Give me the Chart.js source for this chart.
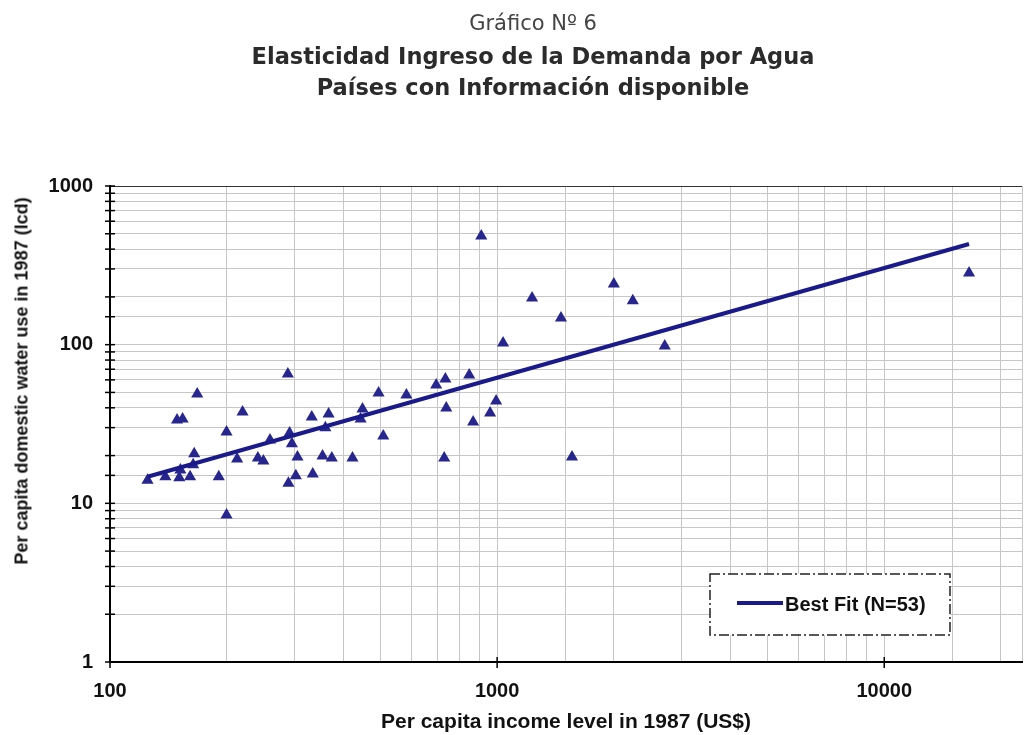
<!DOCTYPE html>
<html>
<head>
<meta charset="utf-8">
<script src="https://cdn.jsdelivr.net/npm/chart.js@4"></script>
<style>
  html, body { margin: 0; padding: 0; background: #fff; }
  #wrap { width: 1029px; height: 735px; position: relative; overflow: hidden; }
  .ttl { position: absolute; left: 533px; transform: translateX(-50%); white-space: nowrap; text-align: center;
         font-family: "DejaVu Sans", Verdana, sans-serif; }
  #t1 { top: 10px; font-size: 21px; line-height: 26px; color: #444; }
  #t2 { top: 40.5px; font-size: 22.5px; line-height: 31px; font-weight: bold; color: #2b2b2b; }
  #ytitle { position: absolute; left: 22px; top: 381px; transform: translate(-50%, -50%) rotate(-90deg);
            white-space: nowrap; font: bold 18px "Liberation Sans", Arial, sans-serif; color: #111; }
</style>
</head>
<body>
<div id="wrap">
  <canvas id="waterChart" width="1029" height="735"></canvas>
  <div class="ttl" id="t1">Gráfico Nº 6</div>
  <div class="ttl" id="t2">Elasticidad Ingreso de la Demanda por Agua<br>Países con Información disponible</div>
  <div id="ytitle">Per capita domestic water use in 1987 (lcd)</div>
</div>
<script>
// Data (income US$ 1987, water use lcd)
const incomeLevel = [
    125, 139, 151, 161, 164, 165, 168, 149, 154, 191,
    200, 200, 213, 220, 241, 249, 259, 288, 295, 305,
    302, 289, 334, 332, 367, 360, 354, 374, 423, 449,
    444, 494, 583, 508, 696, 735, 847, 739, 730, 994,
    959, 867, 1036, 910, 1231, 1462, 2002, 2241, 2710, 1561,
    16560, 291, 152
];
const waterUse = [
    14.0, 14.7, 14.5, 14.7, 17.5, 20.5, 48.9, 33.5, 34.0, 14.7,
    28.2, 8.45, 19.0, 37.7, 19.3, 18.5, 25.1, 65.4, 23.7, 19.6,
    14.9, 13.4, 15.3, 35.0, 36.6, 29.9, 19.9, 19.3, 19.3, 39.3,
    34.0, 49.6, 48.2, 26.6, 55.7, 60.8, 64.4, 39.9, 19.3, 44.2,
    37.1, 32.6, 102.5, 484, 197, 147, 241, 189, 98, 19.6,
    283, 27.8, 16.2
];
// Best fit line end points
const fitIncome = [125, 16560];
const fitWater = [14.7, 431];

const xTickLabels = [100, 1000, 10000];
const yTickLabels = [1, 10, 100, 1000];

const navy = '#26268e';
const lineNavy = '#1a1a8a';
const gridGray = '#c6c6c6';

const points = incomeLevel.map((x, i) => ({ x: x, y: waterUse[i] }));
const fitLine = fitIncome.map((x, i) => ({ x: x, y: fitWater[i] }));

// ticks crossing the axes + dashed legend box
const axisDecor = {
    id: 'axisDecor',
    afterDraw(chart) {
        const c = chart.ctx;
        const xs = chart.scales.x, ys = chart.scales.y;
        const area = chart.chartArea;
        c.save();
        c.strokeStyle = '#000';
        c.lineWidth = 1.5;
        ys.ticks.forEach(t => {
            const py = ys.getPixelForValue(t.value);
            c.beginPath();
            c.moveTo(area.left - 5, py);
            c.lineTo(area.left + 5, py);
            c.stroke();
        });
        xTickLabels.forEach(v => {
            const px = xs.getPixelForValue(v);
            c.beginPath();
            c.moveTo(px, area.bottom - 5);
            c.lineTo(px, area.bottom + 6);
            c.stroke();
        });

        // legend
        const bx = area.left + 600, by = area.bottom - 88, bw = 240, bh = 61;
        c.fillStyle = '#fff';
        c.fillRect(bx, by, bw, bh);
        c.setLineDash([10, 3, 2, 3]);
        c.lineWidth = 1.5;
        c.strokeStyle = '#222';
        c.strokeRect(bx, by, bw, bh);
        c.setLineDash([]);
        const ds = chart.data.datasets[1];
        c.strokeStyle = ds.borderColor;
        c.lineWidth = 4;
        c.beginPath();
        c.moveTo(bx + 27, by + 29);
        c.lineTo(bx + 73, by + 29);
        c.stroke();
        c.fillStyle = '#111';
        c.font = 'bold 20px "Liberation Sans", Arial, sans-serif';
        c.textBaseline = 'middle';
        c.fillText(ds.label, bx + 75, by + 31);
        c.restore();
    }
};

const isDecade = v => Math.abs(Math.log10(v) - Math.round(Math.log10(v))) < 1e-9;

new Chart(document.getElementById('waterChart'), {
    type: 'scatter',
    data: {
        datasets: [{
            label: 'Countries',
            data: points,
            pointStyle: 'triangle',
            pointRadius: 7,
            backgroundColor: navy,
            borderColor: navy,
            borderWidth: 0,
            order: 2
        }, {
            label: 'Best Fit (N=53)',
            type: 'line',
            data: fitLine,
            borderColor: lineNavy,
            borderWidth: 4,
            pointRadius: 0,
            fill: false,
            order: 1
        }]
    },
    options: {
        responsive: false,
        animation: false,
        layout: { padding: { top: 186, left: 0, right: 0, bottom: 0 } },
        plugins: {
            legend: { display: false },
            tooltip: { enabled: false }
        },
        scales: {
            x: {
                type: 'logarithmic',
                min: 100,
                max: 22690,
                afterFit: s => { s.height = 73; s.paddingRight = 0; s.paddingLeft = 0; },
                border: { color: '#000', width: 2 },
                grid: { color: gridGray, lineWidth: 1, drawTicks: false },
                ticks: {
                    autoSkip: false,
                    maxRotation: 0,
                    padding: 17,
                    color: '#111',
                    font: { family: '"Liberation Sans", Arial, sans-serif', size: 20, weight: 'bold' },
                    callback: v => xTickLabels.includes(v) ? String(v) : ''
                },
                title: {
                    display: true,
                    text: 'Per capita income level in 1987 (US$)',
                    color: '#111',
                    font: { family: '"Liberation Sans", Arial, sans-serif', size: 21, weight: 'bold' },
                    padding: { top: 4, bottom: 0 }
                }
            },
            y: {
                type: 'logarithmic',
                min: 1,
                max: 1000,
                afterFit: s => { s.width = 110; s.paddingTop = 0; s.paddingBottom = 0; },
                border: { color: '#000', width: 2 },
                grid: {
                    drawTicks: false,
                    lineWidth: 1,
                    color: c => (c.tick && c.tick.value === 1000) ? '#333' : gridGray
                },
                ticks: {
                    autoSkip: false,
                    padding: 17,
                    color: '#111',
                    font: { family: '"Liberation Sans", Arial, sans-serif', size: 20, weight: 'bold' },
                    callback: v => (isDecade(v) && yTickLabels.includes(Math.round(v))) ? String(Math.round(v)) : ''
                }
            }
        }
    },
    plugins: [axisDecor]
});
</script>
</body>
</html>
